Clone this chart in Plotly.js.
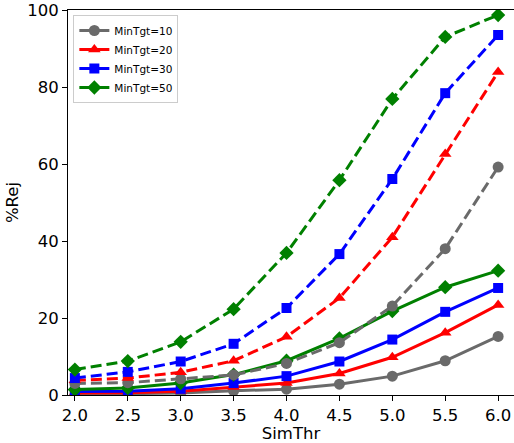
<!DOCTYPE html>
<html>
<head>
<meta charset="utf-8">
<script src="https://cdn.plot.ly/plotly-3.0.1.min.js"></script>
<style>html,body{margin:0;padding:0;background:#fff;}#chart{width:514px;height:443px;}</style>
</head>
<body>
<div id="chart"></div>
<script>
const simThr = [2.0, 2.5, 3.0, 3.5, 4.0, 4.5, 5.0, 5.5, 6.0];
const seriesNames = ["MinTgt=10", "MinTgt=20", "MinTgt=30", "MinTgt=50"];
// dashed series
const dash10 = [3.0, 3.2, 4.2, 5.2, 8.2, 13.6, 23.1, 38.0, 59.2];
const dash20 = [3.8, 4.4, 5.9, 8.9, 15.1, 25.2, 41.0, 62.6, 83.9];
const dash30 = [4.4, 6.0, 8.7, 13.3, 22.6, 36.6, 56.1, 78.4, 93.5];
const dash50 = [6.6, 8.8, 13.8, 22.3, 36.9, 55.8, 76.9, 93.0, 98.7];
// solid series
const solid10 = [0.2, 0.3, 0.5, 1.1, 1.5, 2.8, 4.9, 8.9, 15.2];
const solid20 = [0.5, 0.6, 1.0, 2.1, 3.1, 5.6, 9.8, 16.2, 23.4];
const solid30 = [0.9, 1.0, 1.6, 3.1, 4.9, 8.7, 14.4, 21.6, 27.8];
const solid50 = [1.4, 1.8, 3.1, 5.3, 8.9, 14.7, 21.8, 28.0, 32.3];

const colors = ["#6a6a6a", "#ff0000", "#0000ff", "#008000"];
const symbols = ["circle", "triangle-up", "square", "diamond"];
const msize = [11, 11, 10, 11];
const dashed = [dash10, dash20, dash30, dash50];
const solid = [solid10, solid20, solid30, solid50];

const traces = [];
for (let i = 0; i < 4; i++) {
  traces.push({
    x: simThr, y: solid[i], type: "scatter", mode: "lines+markers",
    name: seriesNames[i], showlegend: true,
    line: {color: colors[i], width: 3},
    marker: {symbol: symbols[i], size: msize[i], color: colors[i]}
  });
}
for (let i = 0; i < 4; i++) {
  traces.push({
    x: simThr, y: dashed[i], type: "scatter", mode: "lines+markers",
    name: seriesNames[i], showlegend: false,
    line: {color: colors[i], width: 3, dash: "11px,5px"},
    marker: {symbol: symbols[i], size: msize[i], color: colors[i]}
  });
}

const layout = {
  width: 514, height: 443,
  margin: {l: 68, r: 0, t: 10, b: 48, pad: 0},
  paper_bgcolor: "#fff", plot_bgcolor: "#fff",
  font: {family: "DejaVu Sans", color: "#000"},
  showlegend: true,
  legend: {
    x: 0.012, y: 0.987, xanchor: "left", yanchor: "top",
    bgcolor: "rgba(255,255,255,0.85)", bordercolor: "#cccccc", borderwidth: 1,
    font: {size: 10.5, family: "DejaVu Sans"},
    itemwidth: 30, tracegroupgap: 0
  },
  xaxis: {
    range: [1.935, 6.15],
    tickvals: [2.0, 2.5, 3.0, 3.5, 4.0, 4.5, 5.0, 5.5, 6.0],
    ticktext: ["2.0", "2.5", "3.0", "3.5", "4.0", "4.5", "5.0", "5.5", "6.0"],
    ticks: "outside", ticklen: 5, tickwidth: 1, tickcolor: "#000",
    showline: true, linecolor: "#000", linewidth: 1, mirror: true,
    showgrid: false, zeroline: false,
    tickfont: {size: 16.5, family: "DejaVu Sans"},
    title: {text: "SimThr", font: {size: 16.5, family: "DejaVu Sans"}, standoff: 3}
  },
  yaxis: {
    range: [0, 100],
    tickvals: [0, 20, 40, 60, 80, 100],
    ticks: "outside", ticklen: 5, tickwidth: 1, tickcolor: "#000",
    showline: true, linecolor: "#000", linewidth: 1,
    showgrid: false, zeroline: false,
    tickfont: {size: 16.5, family: "DejaVu Sans"},
    title: {text: "%Rej", font: {size: 16.5, family: "DejaVu Sans"}, standoff: 4}
  }
};

Plotly.newPlot("chart", traces, layout, {displayModeBar: false, staticPlot: true});
</script>
</body>
</html>
